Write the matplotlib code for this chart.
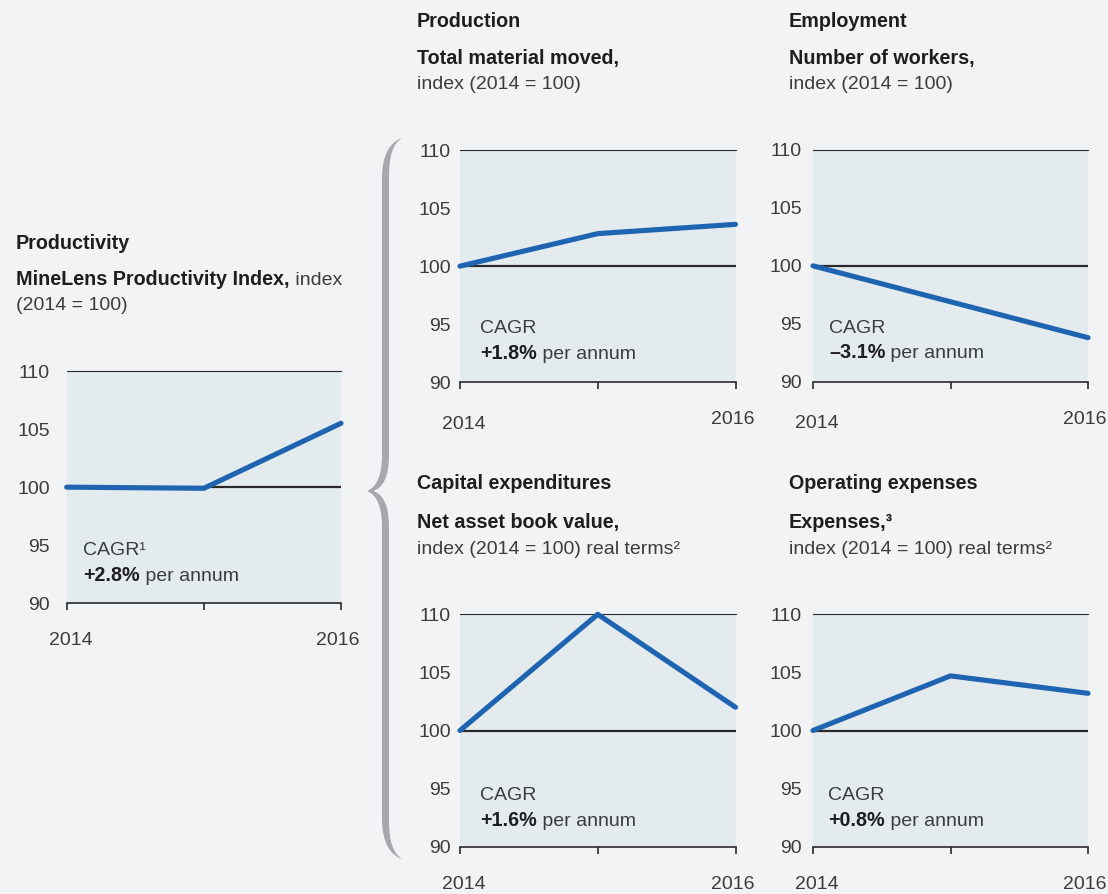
import matplotlib
matplotlib.use("Agg")
import matplotlib.pyplot as plt
from matplotlib.path import Path
from matplotlib.patches import PathPatch
from matplotlib.transforms import ScaledTranslation

# ---------------- data ----------------
years = ["2014", "2015", "2016"]
productivity = [100.0, 99.9, 105.5]
production = [100.0, 102.8, 103.6]
employment = [100.0, 96.9, 93.8]
capex = [100.0, 110.0, 102.0]
opex = [100.0, 104.7, 103.2]
yticks = [90, 95, 100, 105, 110]

# ---------------- style ----------------
W, H = 1108, 894
BG = "#f1f3f5"
PANEL = "#e4ebef"
BLUE = "#1f64b0"
DARK = "#2a2a2a"
TXT = "#3c3c3c"
FS = 14
FONT = "Liberation Sans"
plt.rcParams["font.family"] = [FONT, "DejaVu Sans"]

fig = plt.figure(figsize=(W / 100, H / 100), dpi=100)
fig.patch.set_facecolor(BG)


def rect(l, t, r, b):
    return [l / W, 1 - b / H, (r - l) / W, (b - t) / H]


def panel(box, values, ypad_px, shift_2014=0.0):
    ax = fig.add_axes(rect(*box))
    ax.set_facecolor(PANEL)
    x = list(range(len(values)))
    ax.plot(x, values, color=BLUE, lw=3.7, solid_capstyle="round",
            solid_joinstyle="round", clip_on=False, zorder=5)
    ax.axhline(100, color=DARK, lw=1.6, zorder=3)
    ax.set_xlim(0, len(values) - 1)
    ax.set_ylim(90, 110)
    for s in ("left", "right"):
        ax.spines[s].set_visible(False)
    ax.spines["top"].set_color(DARK)
    ax.spines["top"].set_linewidth(0.8)
    ax.spines["bottom"].set_color(DARK)
    ax.spines["bottom"].set_linewidth(1.2)
    ax.set_yticks(yticks)
    ax.set_yticklabels([str(v) for v in yticks])
    ax.tick_params(axis="y", length=0, pad=ypad_px * 0.72, labelsize=FS,
                   labelcolor=TXT)
    ax.set_xticks(x)
    ax.set_xticklabels([years[0]] + [""] * (len(values) - 2) + [years[-1]])
    ax.tick_params(axis="x", direction="out", length=5, width=1.2,
                   color=DARK, pad=16, labelsize=FS, labelcolor=TXT)
    labs = ax.get_xticklabels()
    labs[0].set_transform(labs[0].get_transform() +
                          ScaledTranslation(4 / 100, -shift_2014 / 100, fig.dpi_scale_trans))
    labs[-1].set_transform(labs[-1].get_transform() +
                           ScaledTranslation(-3 / 100, 0, fig.dpi_scale_trans))
    return ax


panel((66.7, 371, 341, 603.3), productivity, 17)
panel((460, 150, 735.5, 382.3), production, 9, shift_2014=4.5)
panel((813, 150, 1088, 381.7), employment, 11, shift_2014=4.5)
panel((460, 614.3, 735.5, 846.7), capex, 9)
panel((813, 614.3, 1088, 846.7), opex, 11)

# ---------------- overlay in pixel coordinates ----------------
ov = fig.add_axes([0, 0, 1, 1])
ov.set_xlim(0, W)
ov.set_ylim(H, 0)
ov.axis("off")


def txt(x, y, s, bold=False, color=None):
    return ov.text(x, y, s, fontsize=FS + (0.2 if bold else 0),
                   fontweight="bold" if bold else "normal",
                   color=color or ("#1e1e1e" if bold else TXT),
                   ha="left", va="baseline")


def mixed(x, y, sbold, sreg):
    t1 = txt(x, y, sbold, bold=True)
    ov.annotate(sreg, xy=(1, 0), xycoords=t1, fontsize=FS, color=TXT,
                ha="left", va="bottom")


# titles
txt(16, 249, "Productivity", bold=True)
mixed(16, 285, "MineLens Productivity Index,", " index")
txt(16, 310, "(2014 = 100)")

txt(417, 27, "Production", bold=True)
txt(417, 64, "Total material moved,", bold=True)
txt(417, 89, "index (2014 = 100)")

txt(789, 27, "Employment", bold=True)
txt(789, 64, "Number of workers,", bold=True)
txt(789, 89, "index (2014 = 100)")

txt(417, 489, "Capital expenditures", bold=True)
txt(417, 528, "Net asset book value,", bold=True)
txt(417, 554, "index (2014 = 100) real terms\u00b2")

txt(789, 489, "Operating expenses", bold=True)
txt(789, 528, "Expenses,\u00b3", bold=True)
txt(789, 554, "index (2014 = 100) real terms\u00b2")

# CAGR annotations
txt(83, 555, "CAGR\u00b9")
mixed(83, 581, "+2.8%", " per annum")
txt(480, 333, "CAGR")
mixed(480, 359, "+1.8%", " per annum")
txt(829, 333, "CAGR")
mixed(829, 358, "\u20133.1%", " per annum")
txt(480, 800, "CAGR")
mixed(480, 826, "+1.6%", " per annum")
txt(828, 800, "CAGR")
mixed(828, 826, "+0.8%", " per annum")

# curly brace
C3 = Path.CURVE4
verts = [
    (402, 138),
    (390, 142), (382, 155), (382, 178),
    (382, 455),
    (382, 475), (377, 487), (367, 491),
    (377, 495), (382, 507), (382, 527),
    (382, 819),
    (382, 842), (390, 855), (402, 859),
    (393, 853), (389, 842), (389, 819),
    (389, 527),
    (389, 505), (383, 494), (373, 491),
    (383, 488), (389, 477), (389, 455),
    (389, 178),
    (389, 155), (393, 144), (402, 138),
    (402, 138),
]
codes = [Path.MOVETO,
         C3, C3, C3,
         Path.LINETO,
         C3, C3, C3,
         C3, C3, C3,
         Path.LINETO,
         C3, C3, C3,
         C3, C3, C3,
         Path.LINETO,
         C3, C3, C3,
         C3, C3, C3,
         Path.LINETO,
         C3, C3, C3,
         Path.CLOSEPOLY]
ov.add_patch(PathPatch(Path(verts, codes), facecolor="#a6a8ab",
                       edgecolor="none", clip_on=False))

fig.savefig("out.png", dpi=100, facecolor=fig.get_facecolor())
